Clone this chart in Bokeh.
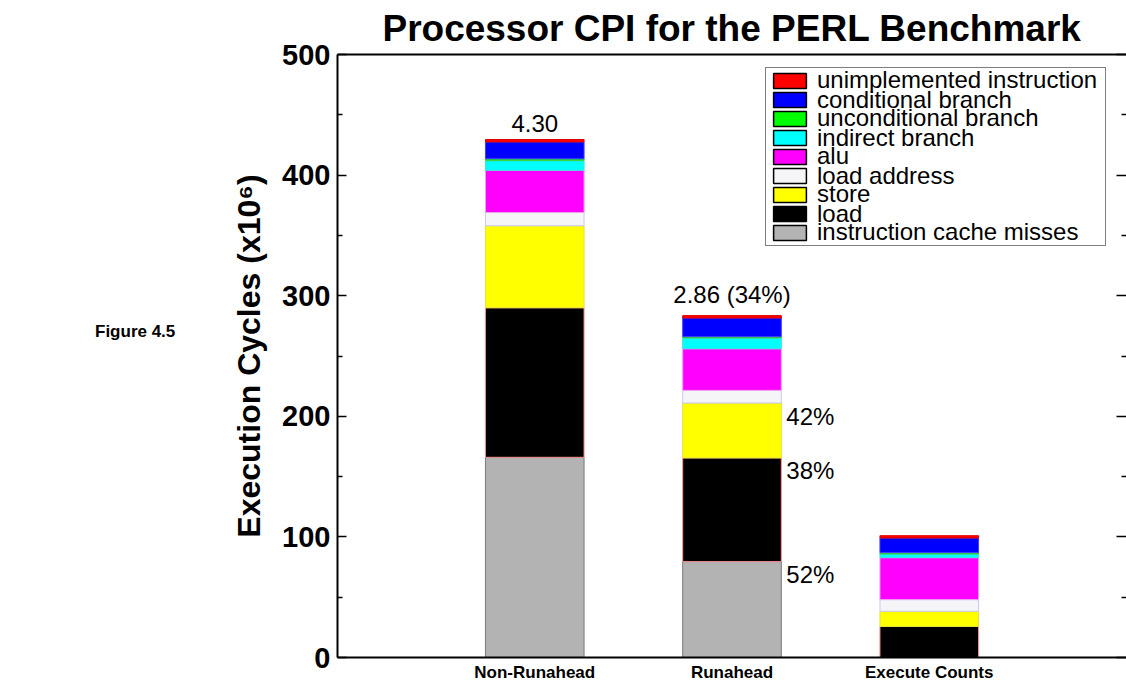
from bokeh.plotting import figure
from bokeh.layouts import row
from bokeh.models import (ColumnDataSource, Range1d, LinearAxis, FixedTicker, Legend,
                          LegendItem, Div)
from bokeh.core.properties import value
from bokeh.embed import file_html
from bokeh.resources import INLINE

# ---------------- data ----------------
categories = ["Non-Runahead", "Runahead", "Execute Counts"]
components = ["instruction cache misses", "load", "store", "load address", "alu",
              "indirect branch", "unconditional branch", "conditional branch",
              "unimplemented instruction"]
icache_misses = [166.0, 79.5, 0.0]
load = [124.0, 86.0, 25.7]
store = [68.0, 45.5, 12.6]
load_address = [11.0, 10.5, 9.7]
alu = [35.0, 34.5, 34.8]
indirect_branch = [8.0, 9.0, 3.0]
unconditional_branch = [1.5, 1.0, 1.1]
conditional_branch = [14.0, 15.5, 12.2]
unimplemented_instruction = [2.0, 2.0, 1.9]
cpi_labels = ["4.30", "2.86 (34%)", ""]
runahead_pct_segments = ["store", "load", "instruction cache misses"]
runahead_pct_labels = ["42%", "38%", "52%"]
y_ticks = [0, 100, 200, 300, 400, 500]
figure_label = "Figure 4.5"

# ---------------- styles ----------------
FONT = "Liberation Sans"
colors = ["#b3b3b3", "#000000", "#ffff00", "#f5f5f7", "#ff00ff",
          "#00ffff", "#00ff00", "#0000ff", "#ff0000"]
outlines = ["#7a7a7a", "#ff9090", "#e8e040", "#c8c8f0", "#f0a0f0",
            "#40e0e0", "#40d040", "#4040ff", "#e00000"]
bar_width = 0.5
side_w = 200

series = [icache_misses, load, store, load_address, alu, indirect_branch,
          unconditional_branch, conditional_branch, unimplemented_instruction]
xs = list(range(1, len(categories) + 1))
data = {"x": xs}
for name, vals in zip(components, series):
    data[name] = vals
source = ColumnDataSource(data)

p = figure(width=1126 - side_w, height=685, x_range=Range1d(0, 4), y_range=Range1d(0, 500),
           output_backend="svg", toolbar_location=None,
           min_border_left=337 - side_w, min_border_right=0, min_border_top=53, min_border_bottom=28)
p.outline_line_color = None
p.grid.visible = False
p.background_fill_color = "white"
p.border_fill_color = "white"

p.vbar_stack(components, x="x", width=bar_width, source=source,
             fill_color=colors, line_color=outlines, line_width=1)

# totals and labels above bars
totals = [sum(col) for col in zip(*series)]
p.text(x=xs, y=totals, text=cpi_labels, text_align="center", text_baseline="bottom",
       y_offset=-8, text_font=value(FONT), text_font_size="24px", text_color="black")

# percentage labels beside the Runahead bar
ri = categories.index("Runahead")
tops = []
for seg in runahead_pct_segments:
    k = components.index(seg)
    tops.append(sum(series[j][ri] for j in range(k + 1)))
p.text(x=[xs[ri] + bar_width / 2] * len(tops), y=tops, text=runahead_pct_labels,
       text_align="left", text_baseline="middle", x_offset=5, y_offset=13,
       text_font=value(FONT), text_font_size="24px", text_color="black")

# title
p.title.text = "Processor CPI for the PERL Benchmark"
p.title.align = "center"
p.title.text_font = FONT
p.title.text_font_size = "37px"
p.title.text_font_style = "bold"
p.title.text_color = "black"
p.title.standoff = 11

# left axis
yax = p.yaxis[0]
yax.ticker = FixedTicker(ticks=y_ticks,
                         minor_ticks=[(a + b) / 2 for a, b in zip(y_ticks, y_ticks[1:])])
yax.axis_label = "Execution Cycles (x10\u2076)"
yax.axis_label_text_font = FONT
yax.axis_label_text_font_size = "32px"
yax.axis_label_text_font_style = "bold"
yax.axis_label_text_color = "black"
yax.axis_label_standoff = 12
yax.major_label_text_font = FONT
yax.major_label_text_font_size = "29px"
yax.major_label_text_font_style = "bold"
yax.major_label_text_color = "black"
yax.major_label_standoff = 7
yax.major_tick_in = 9
yax.major_tick_out = 0
yax.minor_tick_in = 5
yax.minor_tick_out = 0
yax.axis_line_width = 2
yax.axis_line_color = "black"
yax.major_tick_line_width = 1.5
yax.minor_tick_line_width = 1.5

# bottom axis
xax = p.xaxis[0]
xax.ticker = FixedTicker(ticks=xs, minor_ticks=[])
xax.major_label_overrides = {x: c for x, c in zip(xs, categories)}
xax.major_label_text_font = FONT
xax.major_label_text_font_size = "17px"
xax.major_label_text_font_style = "bold"
xax.major_label_text_color = "black"
xax.major_label_standoff = 5
xax.major_tick_in = 0
xax.major_tick_out = 0
xax.minor_tick_in = 0
xax.minor_tick_out = 0
xax.axis_line_width = 2
xax.axis_line_color = "black"

# right axis (ticks only)
rax = LinearAxis(ticker=FixedTicker(ticks=y_ticks,
                                    minor_ticks=[(a + b) / 2 for a, b in zip(y_ticks, y_ticks[1:])]),
                 major_label_overrides={t: "" for t in y_ticks},
                 major_label_standoff=0, axis_line_color=None,
                 major_tick_in=10, major_tick_out=0, minor_tick_in=5, minor_tick_out=0,
                 major_tick_line_width=1.5, minor_tick_line_width=1.5)
p.add_layout(rax, "right")

# top axis (line only)
tax = LinearAxis(ticker=FixedTicker(ticks=[], minor_ticks=[]),
                 major_tick_in=0, major_tick_out=0, minor_tick_in=0, minor_tick_out=0,
                 major_label_standoff=0, axis_line_width=2, axis_line_color="black")
p.add_layout(tax, "above")

# legend: swatches + frame from one Legend (compact rows), names from one-item legends on top
leg_x, leg_y = 428, 411          # bottom-left of legend box, px from frame bottom-left
row_h, pad, glyph_w, standoff, label_w = 19, 3, 41, 8, 284
text_row_h = 30
legend_order = list(reversed(components))
legend_colors = list(reversed(colors))
items = []
for name, col in zip(legend_order, legend_colors):
    r = p.vbar(x="x", top=name, width=bar_width, source=source, fill_color=col,
               line_color="black", line_width=1.5, visible=False)
    items.append(LegendItem(label=" ", renderers=[r]))
p.add_layout(Legend(items=items, location=(leg_x, leg_y), margin=0, padding=pad, spacing=0,
                    glyph_width=glyph_w, glyph_height=row_h, label_standoff=standoff,
                    label_height=row_h, label_width=label_w,
                    label_text_font=FONT, label_text_font_size="1px",
                    border_line_color="black", border_line_width=1.5,
                    background_fill_color="white", background_fill_alpha=1.0,
                    inactive_fill_alpha=0.0))

n = len(legend_order)
for i, name in enumerate(legend_order):
    ghost = p.vbar(x="x", top=name, width=bar_width, source=source,
                   fill_alpha=0.0, line_alpha=0.0, visible=False)
    center = leg_y + pad + (n - 1 - i) * row_h + row_h / 2 + 1
    p.add_layout(Legend(items=[LegendItem(label=name, renderers=[ghost])],
                        location=(leg_x + pad, int(round(center - text_row_h / 2))),
                        margin=0, padding=0, spacing=0,
                        glyph_width=glyph_w, glyph_height=text_row_h, label_standoff=standoff,
                        label_height=text_row_h,
                        label_text_font=FONT, label_text_font_size="24px",
                        label_text_color="black",
                        border_line_alpha=0.0, background_fill_alpha=0.0,
                        inactive_fill_alpha=0.0))

side = Div(text=('<div style="margin-left:95px;margin-top:320px;font-family:\'Liberation Sans\';'
                 'font-weight:bold;font-size:17px;color:black;white-space:nowrap;">'
                 + figure_label + '</div>'),
           width=side_w, height=685, margin=(0, 0, 0, 0))

layout = row(side, p, spacing=0)
open("out.html", "w").write(file_html(layout, INLINE))
